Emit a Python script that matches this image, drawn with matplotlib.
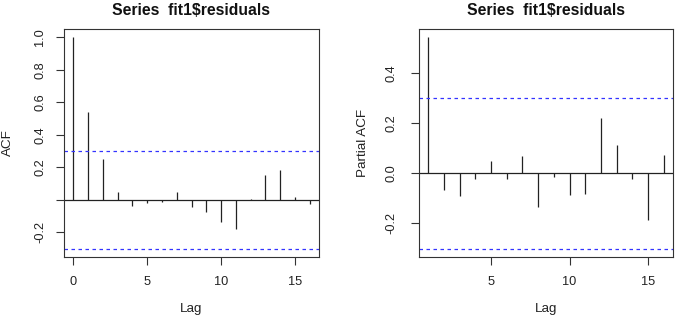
import matplotlib
matplotlib.use("Agg")
import matplotlib.pyplot as plt
import numpy as np

plt.rcParams["font.family"] = ["Liberation Sans", "DejaVu Sans"]

# values
acf_lags = list(range(0, 17))
acf_vals = [1.0, 0.541, 0.249, 0.047, -0.039, -0.021, -0.016, 0.045, -0.043,
            -0.078, -0.138, -0.183, 0.006, 0.152, 0.183, 0.014, -0.029]
pacf_lags = list(range(1, 17))
pacf_vals = [0.543, -0.065, -0.089, -0.021, 0.049, -0.024, 0.069, -0.136,
             -0.016, -0.088, -0.084, 0.219, 0.112, -0.021, -0.186, 0.074]
conf = 0.301
title = r"Series  fit1\$residuals"

W, H = 675, 317
fig = plt.figure(figsize=(W / 100, H / 100), dpi=100)


def r_lim(lo, hi):
    # R style 4% axis extension
    d = (hi - lo) * 0.04
    return lo - d, hi + d


def draw_panel(left_px, width_px, lags, vals, ylabel, yticks, yticklabels, xticks, ypad):
    ax = fig.add_axes([left_px / W, 60 / H, width_px / W, 228 / H])
    ax.vlines(lags, 0, vals, color="#222222", linewidth=0.9)
    ax.axhline(0, color="#222222", linewidth=0.9)
    for c in (conf, -conf):
        ax.axhline(c, color="#3333ff", linewidth=0.9, dashes=(2.8, 2.8))
    ax.set_xlim(*r_lim(min(lags), max(lags)))
    ax.set_ylim(*r_lim(min(min(vals), -conf), max(max(vals), conf)))
    ax.set_xticks(xticks)
    ax.set_yticks(yticks)
    ax.set_yticklabels(yticklabels, rotation=90, va="center")
    ax.tick_params(axis="both", length=5.8, width=0.8, color="#333333",
                   labelsize=9.2, labelcolor="#222222")
    ax.tick_params(axis="x", pad=7.8)
    ax.tick_params(axis="y", pad=ypad)
    for s in ax.spines.values():
        s.set_linewidth(0.8)
        s.set_color("#333333")
    cx = (left_px + width_px / 2) / W
    fig.text(cx, (H - 15) / H, title, ha="center", va="baseline",
             fontsize=11.3, fontweight="bold", color="#111111")
    fig.text(cx, 5 / H, "Lag", ha="center", va="baseline", fontsize=9.6, color="#222222")
    fig.text((left_px - 56) / W, 0.5 * (60 + 288) / H, ylabel, rotation=90,
             ha="center", va="center", fontsize=9.7, color="#222222")
    return ax


draw_panel(64, 255, acf_lags, acf_vals, "ACF",
           [-0.2, 0.0, 0.2, 0.4, 0.6, 0.8, 1.0],
           ["-0.2", "", "0.2", "0.4", "0.6", "0.8", "1.0"],
           [0, 5, 10, 15], 7.0)
draw_panel(419, 254, pacf_lags, pacf_vals, "Partial ACF",
           [-0.2, 0.0, 0.2, 0.4],
           ["-0.2", "0.0", "0.2", "0.4"],
           [5, 10, 15], 9.5)

fig.savefig("out.png", dpi=100)
